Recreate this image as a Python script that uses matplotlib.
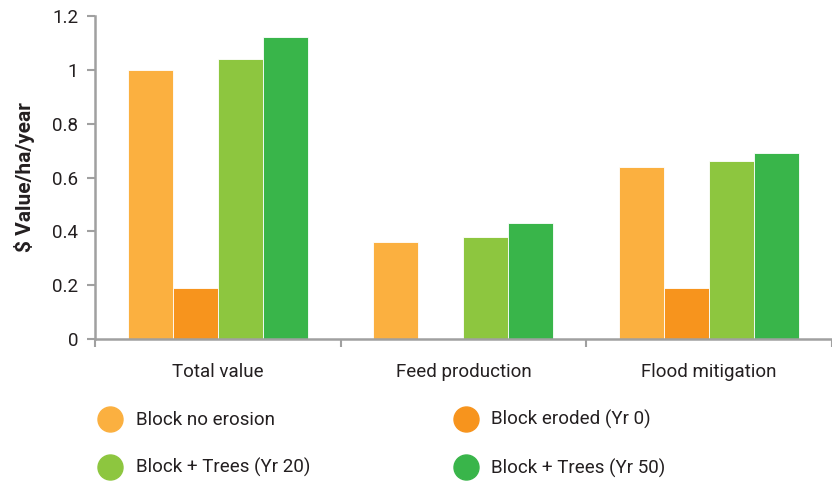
import numpy as np
import matplotlib.pyplot as plt
from matplotlib.lines import Line2D

categories = ["Total value", "Feed production", "Flood mitigation"]
series_names = ["Block no erosion", "Block eroded (Yr 0)", "Block + Trees (Yr 20)", "Block + Trees (Yr 50)"]
no_erosion = [1.00, 0.36, 0.64]
eroded = [0.19, 0.0, 0.19]
trees_20 = [1.04, 0.38, 0.66]
trees_50 = [1.12, 0.43, 0.69]
colors = ["#FBB040", "#F7941D", "#8DC63F", "#39B54A"]
yticks = [0, 0.2, 0.4, 0.6, 0.8, 1, 1.2]
ytick_labels = ["0", "0.2", "0.4", "0.6", "0.8", "1", "1.2"]

plt.rcParams['font.family'] = ['Roboto', 'DejaVu Sans']
txt = "#231F20"
grey = "#A0A0A0"

fig = plt.figure(figsize=(8.32, 4.83), dpi=100)
ax = fig.add_axes([0.114, 0.298, 0.886, 0.669])

x = np.arange(len(categories))
w = 0.183
all_series = [no_erosion, eroded, trees_20, trees_50]
for i, vals in enumerate(all_series):
    ax.bar(x + (i - 1.5) * w, vals, w, color=colors[i], edgecolor="white", linewidth=0.6, label=series_names[i])

ax.set_xlim(-0.5, 2.5)
ax.set_ylim(0, 1.2)
ax.set_yticks(yticks)
ax.set_yticklabels(ytick_labels, fontsize=13.5, color=txt)
ax.set_xticks([-0.5, 0.5, 1.5, 2.5])
ax.set_xticklabels([])
ax.set_xticks(x, minor=True)
ax.set_xticklabels(categories, minor=True, fontsize=13.5, color=txt)
ax.tick_params(axis='x', which='minor', length=0, pad=17)
ax.tick_params(axis='x', which='major', length=6, width=1.5, color=grey)
ax.tick_params(axis='y', length=6, width=1.5, color=grey, pad=6)
ax.spines['top'].set_visible(False)
ax.spines['right'].set_visible(False)
for s in ['left', 'bottom']:
    ax.spines[s].set_color(grey)
    ax.spines[s].set_linewidth(1.8)
ax.set_ylabel("$ Value/ha/year", fontsize=15, fontweight='bold', color=txt, labelpad=12)

handles = [Line2D([], [], marker='o', linestyle='none', markersize=18, markerfacecolor=c, markeredgecolor=c) for c in colors]
order = [0, 2, 1, 3]
leg = fig.legend([handles[i] for i in order], [series_names[i] for i in order], ncol=2,
                 loc='upper left', bbox_to_anchor=(0.108, 0.170), frameon=False,
                 fontsize=13.5, labelspacing=1.55, columnspacing=7.7, handletextpad=0.75,
                 handlelength=1.2, borderpad=0)
for t in leg.get_texts():
    t.set_color(txt)

fig.savefig("out.png", dpi=100)
